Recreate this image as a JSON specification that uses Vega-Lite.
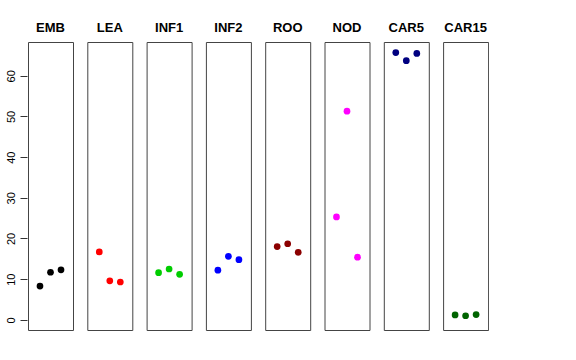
{
  "$schema": "https://vega.github.io/schema/vega-lite/v6.json",
  "autosize": "pad",
  "padding": {"left": 5, "top": 22, "right": 0, "bottom": 0},
  "background": "white",
  "data": {"values": [
    {"panel": "EMB", "pos": 1, "value": 8.3},
    {"panel": "EMB", "pos": 2, "value": 11.7},
    {"panel": "EMB", "pos": 3, "value": 12.3},
    {"panel": "LEA", "pos": 1, "value": 16.7},
    {"panel": "LEA", "pos": 2, "value": 9.6},
    {"panel": "LEA", "pos": 3, "value": 9.3},
    {"panel": "INF1", "pos": 1, "value": 11.6},
    {"panel": "INF1", "pos": 2, "value": 12.5},
    {"panel": "INF1", "pos": 3, "value": 11.2},
    {"panel": "INF2", "pos": 1, "value": 12.2},
    {"panel": "INF2", "pos": 2, "value": 15.6},
    {"panel": "INF2", "pos": 3, "value": 14.8},
    {"panel": "ROO", "pos": 1, "value": 18.0},
    {"panel": "ROO", "pos": 2, "value": 18.7},
    {"panel": "ROO", "pos": 3, "value": 16.6},
    {"panel": "NOD", "pos": 1, "value": 25.3},
    {"panel": "NOD", "pos": 2, "value": 51.3},
    {"panel": "NOD", "pos": 3, "value": 15.4},
    {"panel": "CAR5", "pos": 1, "value": 65.7},
    {"panel": "CAR5", "pos": 2, "value": 63.7},
    {"panel": "CAR5", "pos": 3, "value": 65.5},
    {"panel": "CAR15", "pos": 1, "value": 1.2},
    {"panel": "CAR15", "pos": 2, "value": 1.0},
    {"panel": "CAR15", "pos": 3, "value": 1.3}
  ]},
  "facet": {
    "column": {
      "field": "panel",
      "type": "nominal",
      "sort": ["EMB", "LEA", "INF1", "INF2", "ROO", "NOD", "CAR5", "CAR15"],
      "header": {
        "title": null,
        "labelFont": "Liberation Sans",
        "labelFontSize": 13,
        "labelFontWeight": "bold",
        "labelColor": "black",
        "labelPadding": 6
      }
    }
  },
  "spacing": 12.3,
  "spec": {
    "width": 45,
    "height": 288,
    "mark": {"type": "point", "filled": true, "size": 45, "opacity": 1},
    "encoding": {
      "x": {"field": "pos", "type": "quantitative", "scale": {"domain": [-0.14, 4.14], "nice": false}, "axis": null},
      "y": {"field": "value", "type": "quantitative", "scale": {"domain": [-2.5, 68.3], "nice": false, "zero": false},
        "axis": {"title": null, "values": [0, 10, 20, 30, 40, 50, 60], "grid": false, "domain": false, "labelAngle": 270, "labelAlign": "center", "labelBaseline": "bottom", "labelFont": "Liberation Sans", "labelFontSize": 11, "labelColor": "black", "tickColor": "#333", "tickSize": 7, "labelPadding": 4}},
      "color": {"field": "panel", "type": "nominal",
        "scale": {"domain": ["EMB", "LEA", "INF1", "INF2", "ROO", "NOD", "CAR5", "CAR15"], "range": ["#000000", "#FF0000", "#00CD00", "#0000FF", "#8B0000", "#FF00FF", "#000080", "#006400"]},
        "legend": null}
    }
  },
  "config": {"view": {"stroke": "#444", "strokeWidth": 1}}
}
